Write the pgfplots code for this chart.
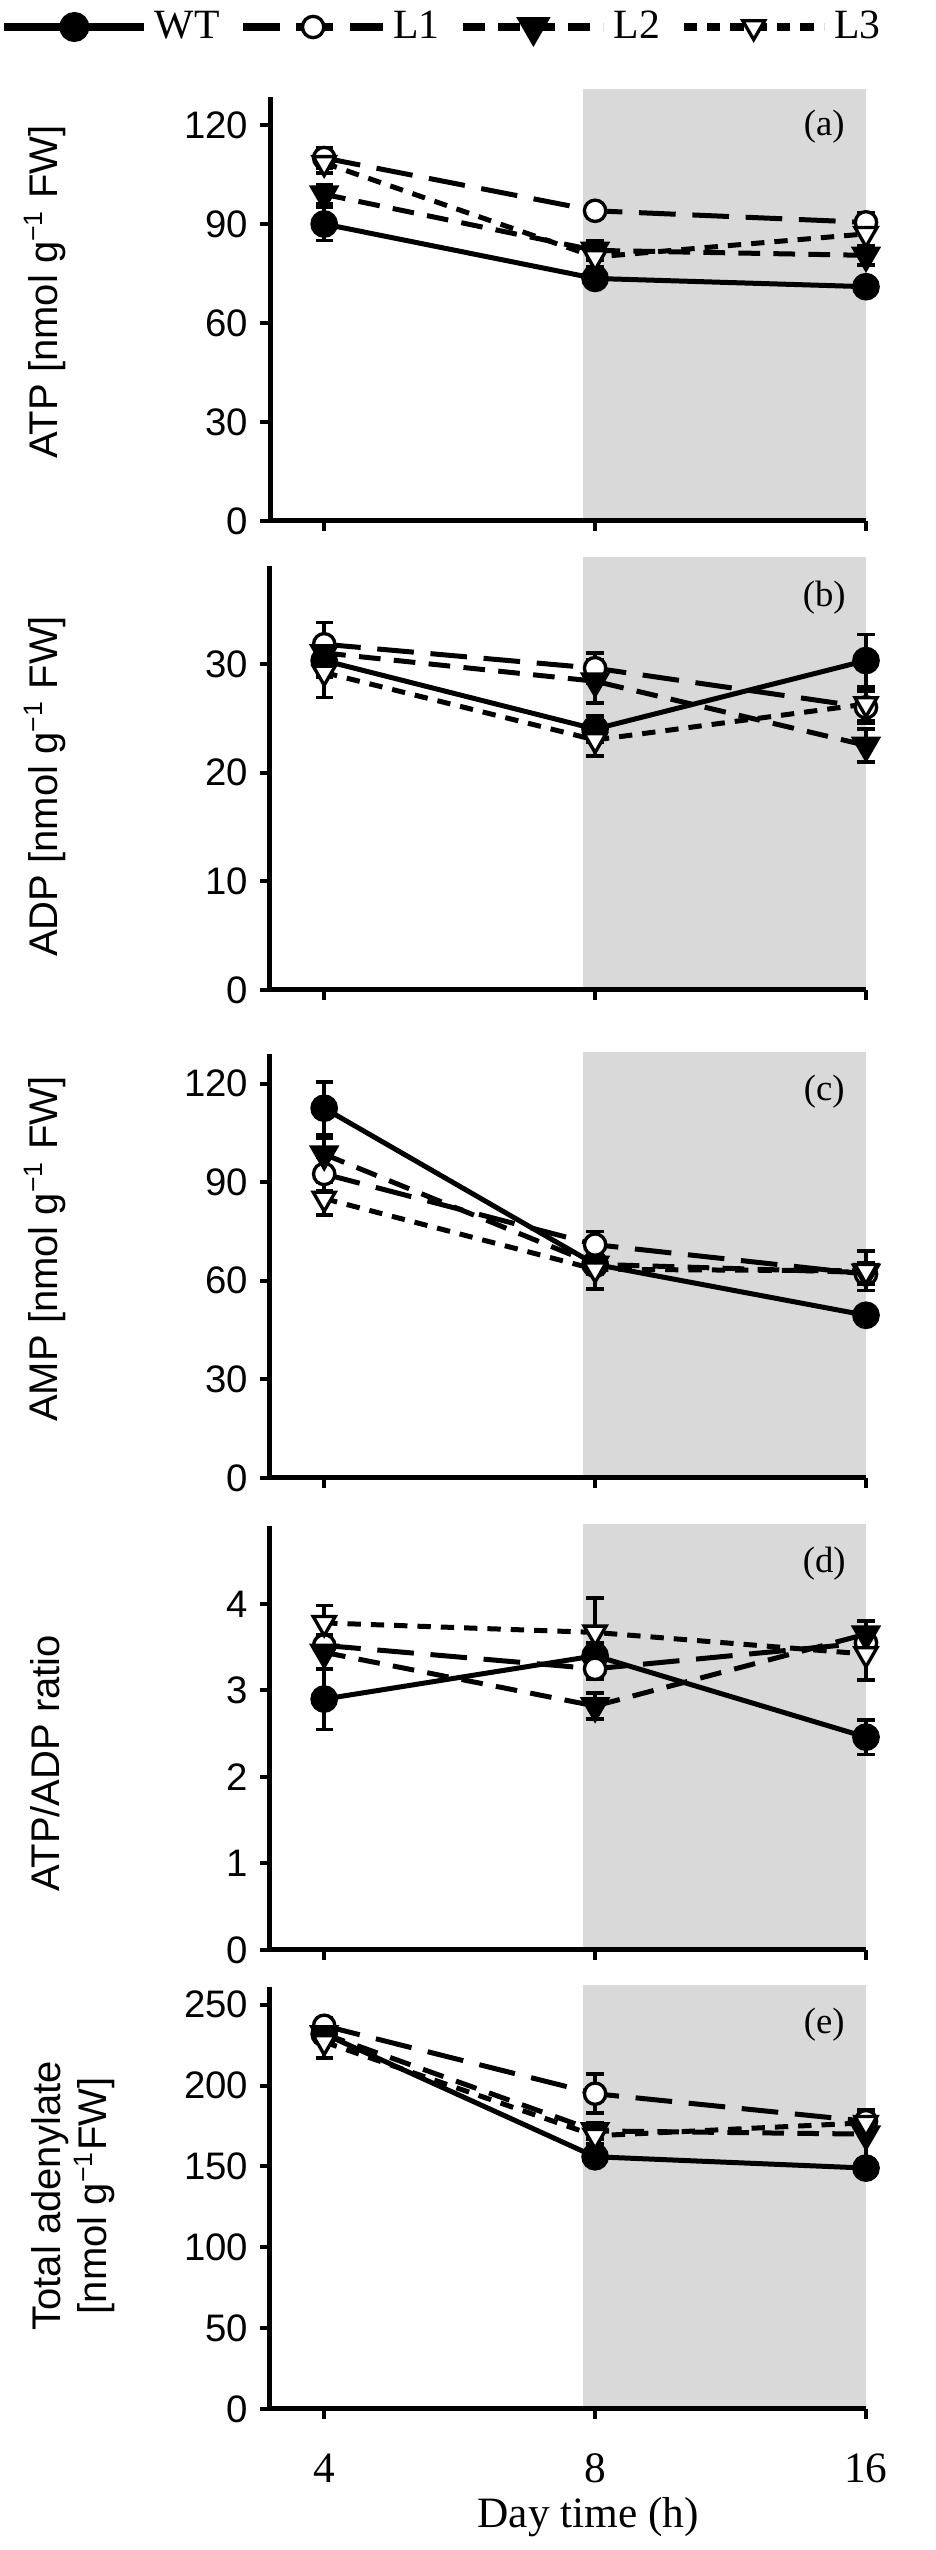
\documentclass[border=0pt]{standalone}
\usepackage{fontspec}
\setmainfont{Liberation Sans}
\newfontfamily\serif{Liberation Serif}
\usepackage{pgfplots}
\pgfplotsset{compat=1.18}
\definecolor{shade}{RGB}{217,217,217}
\tikzset{plabel/.style={font=\serif\fontsize{11}{13}\selectfont}}
\pgfplotsset{
  panel/.style={
    width=178.8pt, height=127.2pt, scale only axis,
    xmin=-0.2, xmax=2, ymin=0,
    axis x line*=bottom, axis y line*=left,
    axis line style={line width=1.5pt},
    xtick={0,1,2}, xticklabels={},
    tick align=outside, major tick length=3pt,
    tick style={line width=1.2pt, black},
    /pgf/number format/assume math mode=true,
    yticklabel style={font=\fontsize{11.5}{13}\selectfont},
    ylabel style={font=\fontsize{12}{14}\selectfont, anchor=center},
    clip=false, axis on top=true,
    error bars/y dir=both, error bars/y explicit,
    error bars/error bar style={solid, line width=1.1pt},
    error bars/error mark options={solid, line width=1.1pt, mark size=2.6pt, rotate=90},
  },
  wt/.style={black, solid, line width=1.5pt, mark=*, mark size=3.4pt, mark options={solid, fill=black}},
  l1/.style={black, line width=1.5pt, dash pattern=on 11pt off 5pt, mark=*, mark size=3.2pt, mark options={solid, fill=white, line width=1pt}},
  l2/.style={black, line width=1.5pt, dash pattern=on 6.5pt off 4pt, mark=triangle*, mark size=3.8pt, mark options={solid, fill=black, rotate=180}},
  l3/.style={black, line width=1.5pt, dash pattern=on 4pt off 3pt, mark=triangle*, mark size=3.8pt, mark options={solid, fill=white, rotate=180, line width=1pt}},
  shadeplot/.style={draw=none, fill=shade, forget plot, mark=none},
}
\begin{document}
\begin{tikzpicture}
\useasboundingbox (0,0) rectangle (280.8pt,765pt);
% ---------- (a) ----------
\begin{axis}[panel, at={(81pt,608.7pt)}, anchor=south west,
  ymax=128.5, ytick={0,30,60,90,120},
  ylabel={ATP [nmol g\textsuperscript{−1} FW]},
  ylabel style={at={(axis description cs:-0.3775,0.54)}},
  legend columns=4,
  legend style={at={(axis description cs:-0.453,1.165)}, anchor=west, draw=none, fill=none, inner sep=0pt,
    font=\serif\fontsize{12.5}{14}\selectfont,
    /tikz/every even column/.append style={column sep=4pt}},
  legend image code/.code={\draw[mark repeat=2,mark phase=2,#1,line width=2.2pt] plot coordinates {(0pt,0pt) (21pt,0pt) (42pt,0pt)};},
]
\addplot[shadeplot] coordinates {(0.955,0) (0.955,131) (2,131) (2,0)} -- cycle;
\addplot[wt] coordinates {(0,90) +- (0,5) (1,73.5) +- (0,2) (2,71) +- (0,2)};
\addplot[l1] coordinates {(0,110) +- (0,3) (1,94) +- (0,1.5) (2,90.5) +- (0,3)};
\addplot[l2] coordinates {(0,99) +- (0,3) (1,82) +- (0,3) (2,80.5) +- (0,3)};
\addplot[l3] coordinates {(0,108.5) +- (0,3) (1,80) +- (0,3) (2,87) +- (0,4)};
\legend{WT, L1, L2, L3}
\node[plabel] at (axis description cs:0.93,0.93) {(a)};
\end{axis}
% ---------- (b) ----------
\begin{axis}[panel, at={(81pt,468pt)}, anchor=south west,
  ymax=39, ytick={0,10,20,30},
  ylabel={ADP [nmol g\textsuperscript{−1} FW]},
  ylabel style={at={(axis description cs:-0.3775,0.48)}},
]
\addplot[shadeplot] coordinates {(0.955,0) (0.955,39.8) (2,39.8) (2,0)} -- cycle;
\addplot[wt] coordinates {(0,30.3) +- (0,1.5) (1,24) +- (0,1.2) (2,30.3) +- (0,2.4)};
\addplot[l1] coordinates {(0,31.8) +- (0,2) (1,29.6) +- (0,1.4) (2,26) +- (0,1.5)};
\addplot[l2] coordinates {(0,31) +- (0,1.5) (1,28.4) +- (0,2) (2,22.5) +- (0,1.5)};
\addplot[l3] coordinates {(0,29.2) +- (0,2.3) (1,23) +- (0,1.5) (2,26.3) +- (0,1.5)};
\node[plabel] at (axis description cs:0.93,0.925) {(b)};
\end{axis}
% ---------- (c) ----------
\begin{axis}[panel, at={(81pt,321.6pt)}, anchor=south west,
  ymax=129, ytick={0,30,60,90,120},
  ylabel={AMP [nmol g\textsuperscript{−1} FW]},
  ylabel style={at={(axis description cs:-0.3775,0.54)}},
]
\addplot[shadeplot] coordinates {(0.955,0) (0.955,129.5) (2,129.5) (2,0)} -- cycle;
\addplot[wt] coordinates {(0,112.5) +- (0,8) (1,65) +- (0,3) (2,49.5) +- (0,2)};
\addplot[l1] coordinates {(0,92.5) +- (0,5) (1,71) +- (0,4) (2,62) +- (0,3)};
\addplot[l2] coordinates {(0,98.5) +- (0,5) (1,65) +- (0,3) (2,62.5) +- (0,3)};
\addplot[l3] coordinates {(0,85) +- (0,5) (1,63.5) +- (0,6) (2,63) +- (0,6)};
\node[plabel] at (axis description cs:0.93,0.91) {(c)};
\end{axis}
% ---------- (d) ----------
\begin{axis}[panel, at={(81pt,180pt)}, anchor=south west,
  ymax=4.9, ytick={0,1,2,3,4},
  ylabel={ATP/ADP ratio},
  ylabel style={at={(axis description cs:-0.3775,0.44)}},
]
\addplot[shadeplot] coordinates {(0.955,0) (0.955,4.92) (2,4.92) (2,0)} -- cycle;
\addplot[wt] coordinates {(0,2.9) +- (0,0.35) (1,3.4) +- (0,0.15) (2,2.46) +- (0,0.2)};
\addplot[l1] coordinates {(0,3.52) +- (0,0.1) (1,3.25) +- (0,0.12) (2,3.55) +- (0,0.1)};
\addplot[l2] coordinates {(0,3.44) +- (0,0.2) (1,2.82) +- (0,0.15) (2,3.65) +- (0,0.15)};
\addplot[l3] coordinates {(0,3.78) +- (0,0.2) (1,3.67) +- (0,0.4) (2,3.42) +- (0,0.3)};
\node[plabel] at (axis description cs:0.93,0.91) {(d)};
\end{axis}
% ---------- (e) ----------
\begin{axis}[panel, at={(81pt,42.3pt)}, anchor=south west,
  height=126.6pt,
  ymax=261, ytick={0,50,100,150,200,250},
  xticklabels={4,8,16},
  xticklabel style={font=\serif\fontsize{13}{15}\selectfont, yshift=-7pt},
  xlabel={Day time (h)},
  xlabel style={font=\serif\fontsize{13}{15}\selectfont, at={(axis description cs:0.534,-0.256)}, anchor=center},
  ylabel={Total adenylate\\{}[nmol g\textsuperscript{−1}FW]},
  ylabel style={at={(axis description cs:-0.33,0.505)}, align=center},
]
\addplot[shadeplot] coordinates {(0.955,0) (0.955,262) (2,262) (2,0)} -- cycle;
\addplot[wt] coordinates {(0,232) +- (0,5) (1,156) +- (0,5) (2,149) +- (0,5)};
\addplot[l1] coordinates {(0,237) +- (0,5) (1,195) +- (0,12) (2,178) +- (0,5)};
\addplot[l2] coordinates {(0,232) +- (0,6) (1,172) +- (0,5) (2,170) +- (0,15)};
\addplot[l3] coordinates {(0,227) +- (0,10) (1,169) +- (0,5) (2,177) +- (0,5)};
\node[plabel] at (axis description cs:0.93,0.91) {(e)};
\end{axis}
\end{tikzpicture}
\end{document}
